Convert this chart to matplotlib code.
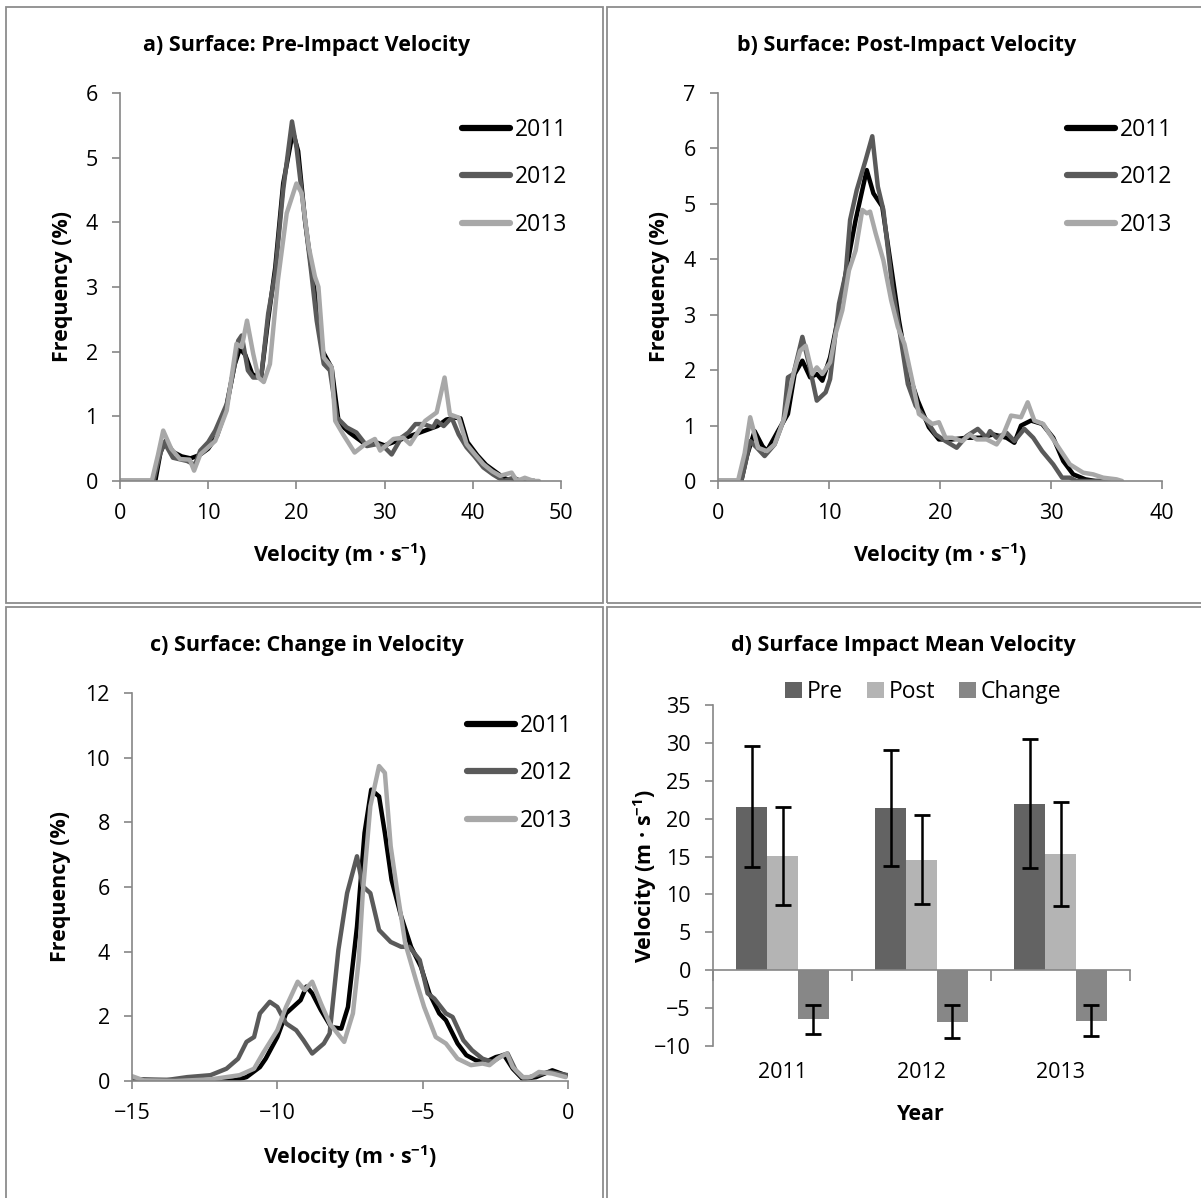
import matplotlib
matplotlib.use("Agg")
import matplotlib.pyplot as plt
from matplotlib.patches import Rectangle

plt.rcParams['font.family'] = ['Open Sans', 'DejaVu Sans']
plt.rcParams['mathtext.fontset'] = 'custom'
plt.rcParams['mathtext.rm'] = 'Open Sans'
plt.rcParams['mathtext.bf'] = 'Open Sans:bold'

years = ['2011', '2012', '2013']
line_colors = ['#000000', '#5a5a5a', '#a8a8a8']

# a) pre-impact velocity distributions
a_x11 = [0, 4.0, 4.6, 5.2, 6.0, 7.0, 8.0, 9.0, 10.0, 11.0, 12.0, 13.0, 13.6, 14.2, 15.0, 16.0, 16.8, 17.6,
         18.5, 19.6, 20.2, 21.0, 22.0, 23.0, 24.0, 24.8, 26.0, 27.0, 28.0, 29.0, 30.0, 31.0, 32.0, 33.0,
         34.0, 35.0, 36.0, 37.0, 38.0, 38.6, 39.4, 40.5, 41.5, 42.5, 43.5, 44.3, 47]
a_y11 = [0, 0, 0.45, 0.62, 0.45, 0.38, 0.35, 0.4, 0.5, 0.7, 1.1, 1.8, 2.05, 1.95, 1.65, 1.6, 2.5, 3.3,
         4.6, 5.4, 5.1, 4.0, 3.0, 2.0, 1.75, 0.9, 0.75, 0.65, 0.55, 0.6, 0.55, 0.6, 0.65, 0.7,
         0.75, 0.8, 0.85, 0.95, 0.98, 0.97, 0.6, 0.4, 0.25, 0.15, 0.05, 0, 0]
a_x12 = [0, 3.8, 4.4, 5.0, 6.0, 7.6, 8.5, 9.1, 10.0, 10.8, 12.1, 13.0, 13.4, 13.8, 14.5, 15.1, 16.0, 16.8,
         17.6, 18.5, 19.5, 20.0, 20.8, 21.7, 22.3, 23.1, 23.8, 24.6, 25.7, 26.8, 28.0, 29.1, 30.0, 30.8,
         31.9, 32.7, 33.5, 34.4, 35.5, 35.9, 36.7, 37.6, 38.4, 39.3, 40.2, 41.2, 42.3, 43.5, 44.6, 45.5, 47]
a_y12 = [0, 0, 0.35, 0.6, 0.36, 0.31, 0.25, 0.47, 0.6, 0.78, 1.19, 1.8, 2.17, 2.25, 1.71, 1.6, 1.6, 2.59,
         3.21, 4.5, 5.56, 5.17, 4.24, 3.21, 2.48, 1.81, 1.71, 0.98, 0.83, 0.75, 0.54, 0.57, 0.52, 0.41,
         0.67, 0.75, 0.88, 0.88, 0.83, 0.93, 0.85, 0.98, 0.72, 0.52, 0.38, 0.21, 0.1, 0, 0.05, 0, 0]
a_x13 = [0, 3.6, 4.3, 4.9, 5.8, 6.8, 7.9, 8.4, 9.1, 10.8, 12.1, 13.2, 13.8, 14.4, 15.1, 15.7, 16.3, 17.0,
         17.9, 18.9, 20.0, 20.6, 21.4, 22.1, 22.5, 23.1, 24.0, 24.4, 25.3, 26.6, 27.8, 28.9, 29.5, 31.0,
         32.1, 32.9, 34.6, 35.9, 36.8, 37.4, 38.4, 39.3, 40.2, 41.2, 42.2, 43.1, 44.4, 45.0, 45.9, 46.9, 47.5]
a_y13 = [0, 0, 0.4, 0.78, 0.5, 0.34, 0.33, 0.16, 0.41, 0.62, 1.09, 2.12, 2.07, 2.48, 1.97, 1.6, 1.53, 1.81,
         3.1, 4.14, 4.6, 4.45, 3.62, 3.16, 3.0, 1.91, 1.76, 0.93, 0.72, 0.44, 0.57, 0.65, 0.47, 0.65,
         0.67, 0.57, 0.93, 1.06, 1.6, 1.03, 0.98, 0.57, 0.42, 0.26, 0.15, 0.08, 0.13, 0, 0.05, 0, 0]

# b) post-impact velocity distributions
b_x11 = [0, 2.1, 2.6, 3.3, 4.0, 4.4, 5.4, 6.3, 6.9, 7.6, 8.3, 8.9, 9.4, 10.1, 10.9, 11.6, 12.4, 13.0,
         13.4, 14.0, 14.8, 15.6, 16.3, 17.1, 18.0, 19.0, 19.9, 21.1, 22.4, 23.6, 24.8, 26.0, 26.7, 27.3,
         28.2, 29.2, 30.2, 31.1, 32.0, 33.1, 34.0, 36]
b_y11 = [0, 0, 0.45, 0.9, 0.63, 0.54, 0.9, 1.21, 1.93, 2.17, 1.87, 1.93, 1.81, 2.23, 3.02, 3.86, 4.71, 5.25,
         5.61, 5.19, 4.95, 3.86, 2.9, 1.99, 1.45, 0.97, 0.75, 0.75, 0.78, 0.78, 0.84, 0.78, 0.69, 1.0,
         1.09, 1.03, 0.78, 0.36, 0.12, 0.03, 0, 0]
b_x12 = [0, 2.1, 2.5, 2.9, 3.5, 4.2, 5.1, 5.9, 6.3, 6.8, 7.6, 8.2, 8.9, 9.7, 10.1, 10.9, 11.5, 11.9,
         12.5, 13.3, 13.9, 14.4, 14.9, 15.7, 16.3, 17.1, 17.8, 18.7, 19.6, 20.5, 21.5, 22.4, 23.4, 24.2,
         24.5, 25.1, 26.0, 26.7, 27.6, 28.4, 29.2, 30.2, 31.0, 31.7, 32.3, 36]
b_y12 = [0, 0, 0.35, 0.72, 0.6, 0.45, 0.66, 1.09, 1.87, 1.93, 2.6, 2.11, 1.45, 1.6, 1.84, 3.2, 3.74, 4.71,
         5.25, 5.79, 6.22, 5.31, 4.89, 3.5, 2.78, 1.75, 1.36, 1.12, 0.84, 0.72, 0.6, 0.81, 0.94, 0.78,
         0.9, 0.78, 0.87, 0.72, 0.94, 0.78, 0.54, 0.3, 0.06, 0.06, 0, 0]
b_x13 = [0, 1.8, 2.4, 2.9, 3.6, 4.4, 5.1, 6.0, 6.8, 7.4, 7.9, 8.5, 8.9, 9.4, 10.1, 10.6, 11.2, 11.8,
         12.4, 13.0, 13.4, 13.7, 14.2, 14.9, 15.6, 16.2, 16.8, 17.5, 18.1, 19.3, 19.9, 20.5, 21.1, 22.0,
         22.7, 23.3, 24.2, 25.1, 25.7, 26.4, 27.3, 27.9, 28.5, 29.3, 29.9, 30.8, 31.7, 32.9, 33.8, 34.7,
         35.9, 36.4]
b_y13 = [0, 0, 0.5, 1.15, 0.6, 0.54, 0.66, 1.15, 1.93, 2.35, 2.44, 1.93, 2.05, 1.93, 2.14, 2.66, 3.08, 3.8,
         4.16, 4.89, 4.83, 4.86, 4.47, 3.98, 3.26, 2.78, 2.47, 1.81, 1.21, 1.03, 1.06, 0.78, 0.78, 0.72,
         0.84, 0.75, 0.75, 0.66, 0.84, 1.18, 1.15, 1.42, 1.09, 1.03, 0.84, 0.57, 0.3, 0.15, 0.12, 0.06,
         0.03, 0]

# c) change in velocity distributions
c_x11 = [-15, -12.0, -11.5, -11.06, -10.6, -10.4, -10.0, -9.7, -9.2, -9.0, -8.8, -8.5, -8.15, -7.8, -7.57,
         -7.26, -7.0, -6.77, -6.5, -6.3, -6.07, -5.74, -5.4, -5.06, -4.77, -4.43, -4.2, -3.8, -3.5, -3.17,
         -2.83, -2.48, -2.2, -1.9, -1.57, -1.1, -0.54, -0.08]
c_y11 = [0.05, 0, 0.02, 0.12, 0.43, 0.69, 1.36, 2.09, 2.5, 2.92, 2.71, 2.19, 1.67, 1.62, 2.29,
         4.77, 7.67, 9.01, 8.8, 7.67, 6.22, 5.09, 4.15, 3.53, 2.71, 2.09, 1.88, 1.16, 0.8, 0.64,
         0.59, 0.74, 0.8, 0.38, 0.07, 0.12, 0.33, 0.18]
c_x12 = [-15, -14.6, -13.8, -13.1, -12.3, -11.75, -11.35, -11.06, -10.8, -10.6, -10.26, -10.0, -9.7, -9.35,
         -9.1, -8.8, -8.4, -8.2, -7.9, -7.6, -7.26, -7.06, -6.8, -6.5, -6.1, -5.74, -5.46, -5.1, -4.83,
         -4.6, -4.2, -3.97, -3.6, -3.3, -2.94, -2.6, -2.25, -2.08, -1.8, -1.5, -1.1, -0.65, 0]
c_y12 = [0.05, 0.02, 0.03, 0.12, 0.18, 0.38, 0.69, 1.21, 1.36, 2.09, 2.45, 2.29, 1.78, 1.57,
         1.26, 0.85, 1.16, 1.47, 4.05, 5.81, 6.95, 6.02, 5.81, 4.67, 4.3, 4.15, 4.15, 3.74, 2.71,
         2.55, 2.09, 1.98, 1.26, 0.95, 0.69, 0.59, 0.8, 0.85, 0.33, 0.07, 0.18, 0.28, 0.18]
c_x13 = [-15, -14.6, -13.5, -12.3, -11.3, -10.8, -10.5, -10.0, -9.7, -9.3, -9.06, -8.8, -8.5, -8.2, -7.7,
         -7.4, -7.2, -7.06, -6.8, -6.5, -6.3, -6.1, -5.9, -5.6, -5.2, -4.95, -4.55, -4.2, -3.8, -3.34,
         -2.94, -2.7, -2.43, -2.1, -1.9, -1.57, -1.28, -1.0, -0.54, -0.08]
c_y13 = [0.15, 0.02, 0, 0.05, 0.18, 0.38, 0.85, 1.57, 2.29, 3.07, 2.81, 3.07, 2.4, 1.78, 1.21,
         2.09, 3.74, 5.81, 8.5, 9.74, 9.53, 7.26, 6.02, 4.26, 3.02, 2.29, 1.36, 1.16, 0.69, 0.49,
         0.54, 0.49, 0.69, 0.85, 0.43, 0.12, 0.12, 0.28, 0.23, 0.12]

# d) mean velocity bars with error bars
bar_groups = ['Pre', 'Post', 'Change']
bar_colors = ['#636363', '#b4b4b4', '#878787']
pre_mean = [21.6, 21.4, 22.0]
pre_err = [8.0, 7.6, 8.5]
post_mean = [15.1, 14.6, 15.3]
post_err = [6.45, 5.85, 6.85]
change_mean = [-6.5, -6.8, -6.65]
change_err = [1.95, 2.2, 2.0]

W, H = 1201, 1198
fig = plt.figure(figsize=(W / 100, H / 100), dpi=100)

spine_c = '#868686'
tick_fs = 15.5
label_fs = 15.5
leg_fs = 16.5


def fx(px):
    return px / W


def fy(py):
    return 1 - py / H


# panel frames (double-line look from neighbouring boxes)
for (x0, y0, x1, y1) in [(6, 7, 603, 603), (607, 7, 1210, 603), (6, 607, 603, 1210), (607, 607, 1210, 1210)]:
    fig.add_artist(Rectangle((fx(x0), fy(y1)), fx(x1 - x0), (y1 - y0) / H, transform=fig.transFigure,
                             fill=False, edgecolor='#8c8c8c', linewidth=1.3))


def style_axes(ax):
    for s in ['top', 'right']:
        ax.spines[s].set_visible(False)
    for s in ['left', 'bottom']:
        ax.spines[s].set_color(spine_c)
        ax.spines[s].set_linewidth(1.2)
    ax.tick_params(axis='both', direction='out', color=spine_c, width=1.2, length=6,
                   labelsize=tick_fs, labelcolor='black')
    ax.tick_params(axis='x', pad=10)
    ax.tick_params(axis='y', pad=10)


xlab = r'Velocity (m · s$^{\mathbf{-1}}$)'


def line_panel(rect, series, xlim, xticks, ylim, yticks, title, title_xy, leg_xy, ylab_x, xlab_y):
    ax = fig.add_axes(rect)
    for (xs, ys), c, yr in zip(series, line_colors, years):
        ax.plot(xs, ys, color=c, lw=3.2, label=yr, solid_joinstyle='round', solid_capstyle='round')
    ax.set_xlim(*xlim)
    ax.set_ylim(*ylim)
    ax.set_xticks(xticks)
    ax.set_yticks(yticks)
    style_axes(ax)
    ax.set_ylabel('Frequency (%)', fontsize=label_fs, fontweight='bold')
    ax.yaxis.set_label_coords(ylab_x, 0.5)
    ax.yaxis.label.set_va('center')
    ax.set_xlabel(xlab, fontsize=label_fs, fontweight='bold')
    ax.xaxis.set_label_coords(0.5, xlab_y)
    ax.xaxis.label.set_va('center')
    leg = ax.legend(loc='upper left', bbox_to_anchor=leg_xy, frameon=False, fontsize=leg_fs,
                    handlelength=2.1, handletextpad=0.2, labelspacing=1.02, borderpad=0, borderaxespad=0)
    for h in leg.get_lines():
        h.set_linewidth(4.5)
    fig.text(fx(title_xy[0]), fy(title_xy[1]), title, ha='center', va='center',
             fontsize=label_fs, fontweight='bold')
    return ax


line_panel([fx(120), fy(481), fx(441), 388 / H],
           [(a_x11, a_y11), (a_x12, a_y12), (a_x13, a_y13)],
           (0, 50), range(0, 51, 10), (0, 6), range(0, 7),
           'a) Surface: Pre-Impact Velocity', (307, 45), (0.775, 0.936), -0.131, -0.19)

line_panel([fx(718), fy(481), fx(444), 388 / H],
           [(b_x11, b_y11), (b_x12, b_y12), (b_x13, b_y13)],
           (0, 40), range(0, 41, 10), (0, 7), range(0, 8),
           'b) Surface: Post-Impact Velocity', (907, 45), (0.786, 0.936), -0.131, -0.19)

line_panel([fx(132), fy(1081), fx(436), 388 / H],
           [(c_x11, c_y11), (c_x12, c_y12), (c_x13, c_y13)],
           (-15, 0), range(-15, 1, 5), (0, 12), range(0, 13, 2),
           'c) Surface: Change in Velocity', (307, 645), (0.769, 0.946), -0.165, -0.196)

# d) bars
axd = fig.add_axes([fx(713), fy(1046), fx(417), 341 / H])
width = 0.223
xpos = range(len(years))
for k, (m, e, c, lab) in enumerate(zip([pre_mean, post_mean, change_mean],
                                       [pre_err, post_err, change_err], bar_colors, bar_groups)):
    xs = [i + (k - 1) * width for i in xpos]
    axd.bar(xs, m, width=width, color=c, label=lab, zorder=2)
    axd.errorbar(xs, m, yerr=e, fmt='none', ecolor='black', elinewidth=1.8, capsize=6, capthick=2, zorder=3)
axd.set_xlim(-0.5, 2.5)
axd.set_ylim(-10, 35)
axd.set_yticks(range(-10, 36, 5))
style_axes(axd)
axd.spines['bottom'].set_position(('data', 0))
axd.set_xticks([-0.5, 0.5, 1.5, 2.5])
axd.set_xticklabels([])
axd.tick_params(axis='x', length=8)
for i, yr in zip(xpos, years):
    axd.text(i, -13.5, yr, ha='center', va='center', fontsize=tick_fs)
axd.set_ylabel(r'Velocity (m · s$^{\mathbf{-1}}$)', fontsize=label_fs, fontweight='bold')
axd.yaxis.set_label_coords(-0.163, 0.5)
axd.yaxis.label.set_va('center')
fig.text(fx(921), fy(1115), 'Year', ha='center', va='center', fontsize=label_fs, fontweight='bold')
fig.text(fx(903), fy(645), 'd) Surface Impact Mean Velocity', ha='center', va='center',
         fontsize=label_fs, fontweight='bold')
axd.legend(loc='center', bbox_to_anchor=(fx(923), fy(692)), bbox_transform=fig.transFigure, ncol=3,
           frameon=False, fontsize=leg_fs, handlelength=0.75, handleheight=0.75, handletextpad=0.2,
           columnspacing=1.05, borderpad=0)

fig.savefig('out.png', dpi=100)
